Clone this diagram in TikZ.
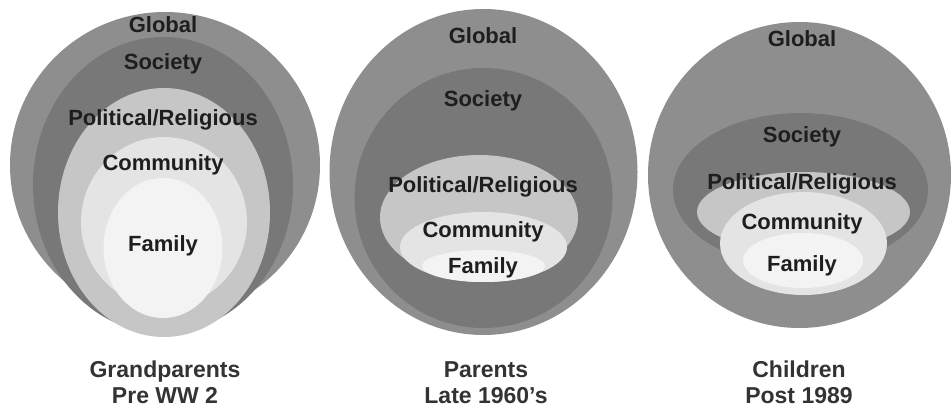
\documentclass[tikz,border=0pt]{standalone}
\usepackage{fontspec}
\setmainfont{Liberation Sans}
\definecolor{cglobal}{HTML}{8E8E8E}
\definecolor{csociety}{HTML}{787878}
\definecolor{cpol}{HTML}{C6C6C6}
\definecolor{ccom}{HTML}{E4E4E4}
\definecolor{cfam}{HTML}{F3F3F3}
\definecolor{ctext}{HTML}{1E1E1E}
\definecolor{ccap}{HTML}{333333}
\begin{document}
\begin{tikzpicture}[x=1pt,y=-1pt,
  lab/.style={font=\fontsize{22}{24}\selectfont\bfseries, text=ctext, inner sep=0pt, anchor=base},
  caption/.style={font=\fontsize{23}{25.5}\selectfont\bfseries, text=ccap, align=center, inner sep=0pt, anchor=base}]
\fill[white] (0,0) rectangle (951,406);
\useasboundingbox (0,0) rectangle (951,406);

% ---------- left: Grandparents ----------
\fill[cglobal]  (165,165) ellipse [x radius=155pt, y radius=153pt];
\fill[csociety] (163,185) ellipse [x radius=130pt, y radius=148pt];
\fill[cpol]     (164,212.5) ellipse [x radius=106pt, y radius=124.5pt];
\fill[ccom]     (164,222) ellipse [x radius=83pt, y radius=85pt];
\fill[cfam]     (163,248) ellipse [x radius=59.5pt, y radius=70pt];
\node[lab] (lg) at (163,33)  {Global};
\node[lab] (ls) at (163,70)  {Society};
\node[lab] (lp) at (163,126) {Political/Religious};
\node[lab] (lc) at (163,171) {Community};
\node[lab] (lf) at (163,252) {Family};
\node[caption] (lcap) at (165,403) {Grandparents\\Pre WW 2};

% ---------- middle: Parents ----------
\fill[cglobal]  (483.5,172) ellipse [x radius=154pt, y radius=163pt];
\fill[csociety] (483.5,198) ellipse [x radius=129pt, y radius=130pt];
\fill[cpol]     (479,217.5) ellipse [x radius=99pt, y radius=62.5pt];
\fill[ccom]     (483.5,247) ellipse [x radius=83.5pt, y radius=35pt];
\fill[cfam]     (483.5,266) ellipse [x radius=61.5pt, y radius=16pt];
\node[lab] (mg) at (483,44)  {Global};
\node[lab] (ms) at (483,107) {Society};
\node[lab] (mp) at (483,193) {Political/Religious};
\node[lab] (mc) at (483,238) {Community};
\node[lab] (mf) at (483,273) {Family};
\node[caption] (mcap) at (486,403) {Parents\\Late 1960's};

% ---------- right: Children ----------
\fill[cglobal]  (799.5,175) ellipse [x radius=151.5pt, y radius=153pt];
\fill[csociety] (800.5,190) ellipse [x radius=127.5pt, y radius=77pt];
\fill[cpol]     (803.5,212) ellipse [x radius=106.5pt, y radius=40pt];
\fill[ccom]     (803.5,243.5) ellipse [x radius=83.5pt, y radius=51.5pt];
\fill[cfam]     (803,260.5) ellipse [x radius=60pt, y radius=27.5pt];
\node[lab] (rg) at (802,47)  {Global};
\node[lab] (rs) at (802,143) {Society};
\node[lab] (rp) at (802,190) {Political/Religious};
\node[lab] (rc) at (802,230) {Community};
\node[lab] (rf) at (802,272) {Family};
\node[caption] (rcap) at (799,403) {Children\\Post 1989};
\end{tikzpicture}
\end{document}
